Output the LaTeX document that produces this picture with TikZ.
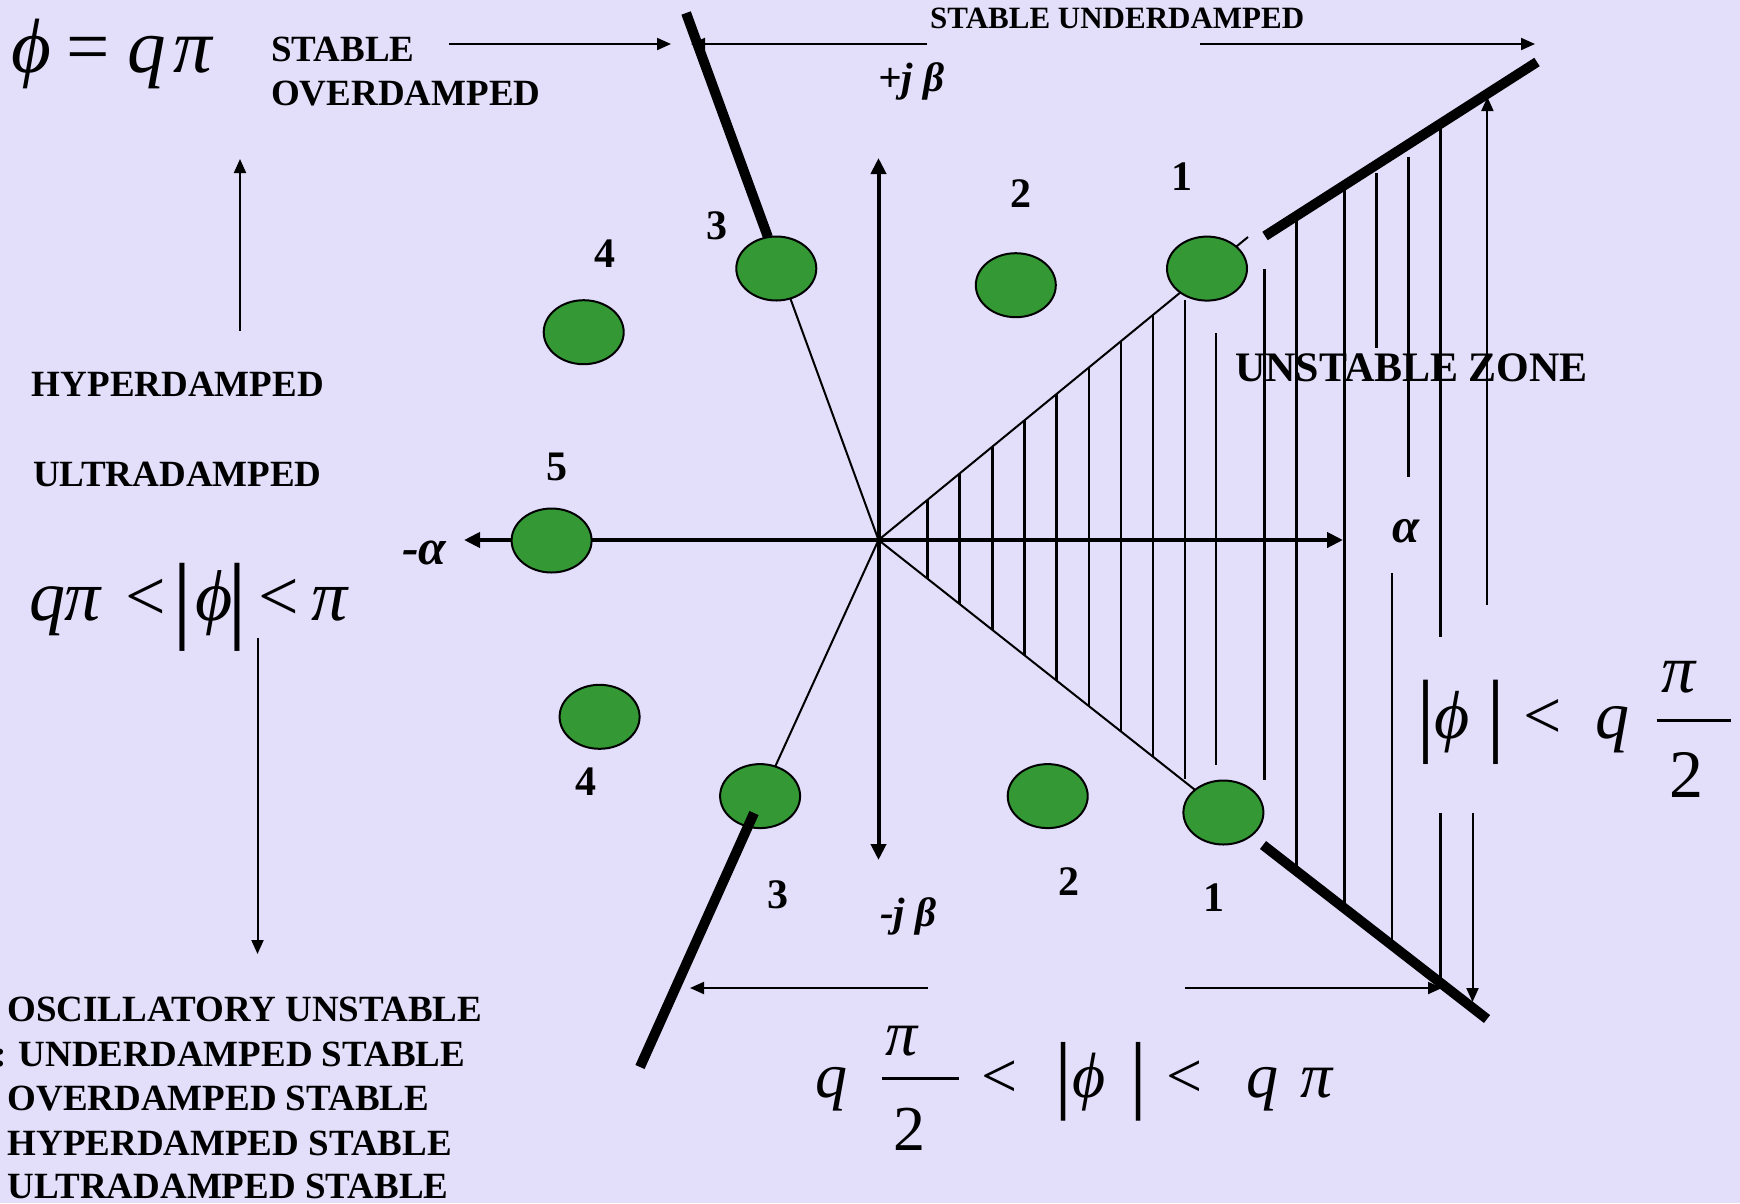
\documentclass[tikz,border=0pt]{standalone}
\usepackage{graphicx}
\usepackage{fontspec}
\setmainfont{Liberation Serif}
\usetikzlibrary{arrows.meta,shapes.geometric}
\definecolor{bgcol}{RGB}{227,223,251}
\definecolor{polegreen}{RGB}{52,153,52}
\newcommand\setfs[1]{\fontsize{#1}{#1}\selectfont}
% place a piece of a formula at an absolute x offset (pt) and a raise (pt)
\newcommand\gat[3]{\makebox[0pt][l]{\hspace*{#1pt}\raisebox{#2pt}{#3}}}
\newcommand\vbarg[1]{\scalebox{1}[#1]{\bfseries|}}
\begin{document}
\begin{tikzpicture}[x=1pt,y=-1pt,
  axisline/.style={line width=4pt,-{Triangle[length=16pt,width=15pt]}},
  thinray/.style={line width=2pt},
  thickray/.style={line width=10pt},
  hatchline/.style={line width=2.5pt},
  annarrow/.style={line width=2pt,-{Triangle[length=14pt,width=12pt]}},
  pole/.style={ellipse,draw,line width=2pt,fill=polegreen,minimum width=80pt,minimum height=64pt,inner sep=0pt},
  lbl/.style={anchor=base west,inner sep=0pt,font=\bfseries\setfs{37}},
  num/.style={inner sep=0pt,font=\bfseries\setfs{42}},
  axlbl/.style={anchor=base west,inner sep=0pt,font=\bfseries\itshape\setfs{41}},
  formula/.style={anchor=base west,inner sep=0pt}
]
\fill[bgcol] (0,0) rectangle (1740,1203);
\useasboundingbox (0,0) rectangle (1740,1203);

% origin and ray points
\coordinate (O) at (878.5,540);
\coordinate (ulA) at (767.9,237);
\coordinate (ulB) at (686.1,13);
\coordinate (llA) at (754,813);
\coordinate (llB) at (640,1067);
\coordinate (urA) at (1248,237);
\coordinate (urT1) at (1265,236);
\coordinate (urT2) at (1537,62);
\coordinate (lrA) at (1223,812);
\coordinate (lrT1) at (1263,845);
\coordinate (lrT2) at (1487,1019);

% hatching of the unstable zone
\foreach \x/\t/\b in {927.7/499.7/578.9, 959.7/473.5/604.1, 992.6/446.5/630.1,
  1024.7/420.2/655.4, 1056.7/394.0/680.7, 1088.8/367.6/706.1, 1120.8/341.4/731.3,
  1152.9/315.1/756.7, 1184.9/300/779, 1216.1/333.3/765, 1264.4/269.3/780,
  1296.4/217/868, 1344.3/186/905, 1376.3/173.3/348.3, 1408.4/156.7/476.7,
  1392.2/573.3/942, 1440.4/125/636.7, 1440.4/813.3/980}
  \draw[hatchline] (\x,\t) -- (\x,\b);

% thin rays
\draw[thinray] (O) -- (ulA);
\draw[thinray] (O) -- (llA);
\draw[thinray] (O) -- (urA);
\draw[thinray] (O) -- (lrA);

% axes
\coordinate (xl) at (464,540);
\coordinate (xr) at (1343,540);
\coordinate (yt) at (878.5,158);
\coordinate (yb) at (878.5,860);
\draw[axisline] (O) -- (xr);
\draw[axisline] (O) -- (xl);
\draw[axisline] (O) -- (yt);
\draw[axisline] (O) -- (yb);

% poles
\node[pole] (c1u) at (1207,268.6) {};
\node[pole] (c2u) at (1015.8,285.2) {};
\node[pole] (c3u) at (776.3,268.5) {};
\node[pole] (c4u) at (583.7,332.2) {};
\node[pole] (c5)  at (551.6,540.5) {};
\node[pole] (c4l) at (599.6,716.8) {};
\node[pole] (c3l) at (760.1,796.1) {};
\node[pole] (c2l) at (1047.7,796.1) {};
\node[pole] (c1l) at (1223.4,812.5) {};

% thick boundary rays
\draw[thickray] (ulA) -- (ulB);
\draw[thickray] (llA) -- (llB);
\draw[thickray] (urT1) -- (urT2);
\draw[thickray] (lrT1) -- (lrT2);

% pole numbers
\node[num] (n1u) at (1182,177) {1};
\node[num] (n2u) at (1020.5,193.5) {2};
\node[num] (n3u) at (717,225.5) {3};
\node[num] (n4u) at (605,253.5) {4};
\node[num] (n5)  at (557,466.5) {5};
\node[num] (n4l) at (586,782) {4};
\node[num] (n3l) at (777.5,894.5) {3};
\node[num] (n2l) at (1068.6,881.8) {2};
\node[num] (n1l) at (1214,897.5) {1};

% axis labels
\node[axlbl] (pjb) at (878,91) {+j β};
\node[axlbl] (mjb) at (880,926) {-j β};
\node[axlbl,font=\bfseries\itshape\setfs{50}] (mal) at (402,564) {-α};
\node[axlbl,font=\bfseries\itshape\setfs{49}] (pal) at (1392,542) {α};

% texts
\node[lbl] (t1) at (271,61) {STABLE};
\node[lbl] (t2) at (271,105) {OVERDAMPED};
\node[lbl,font=\bfseries\setfs{31}] (t3) at (930,28) {STABLE UNDERDAMPED};
\node[lbl] (t4) at (31.7,396.7) {HYPERDAMPED};
\node[lbl] (t5) at (33,486.7) {ULTRADAMPED};
\node[lbl,font=\bfseries\setfs{42}] (t6) at (1235,381.7) {UNSTABLE ZONE};
\node[lbl] (l1) at (7.3,1021) {OSCILLATORY UNSTABLE};
\node[lbl] (l2) at (-6,1066) {: UNDERDAMPED STABLE};
\node[lbl] (l3) at (7.3,1110) {OVERDAMPED STABLE};
\node[lbl] (l4) at (7.3,1155) {HYPERDAMPED STABLE};
\node[lbl] (l5) at (7.3,1198) {ULTRADAMPED STABLE};

% formulas (pieces placed at absolute x positions)
\node[formula,font=\setfs{77}] (fA) at (0,72)
  {\gat{11}{0}{\itshape ϕ}\gat{66}{0}{=}\gat{127}{0}{\itshape q}\gat{173}{0}{\itshape π}};
\node[formula,font=\setfs{72}] (fB) at (0,620)
  {\gat{28.5}{0}{\itshape q}\gat{64}{0}{\itshape π}\gat{125}{0}{<}%
   \gat{174.1}{-10.7}{\vbarg{1.346}}\gat{195}{0}{\itshape ϕ}%
   \gat{229.1}{-10.7}{\vbarg{1.346}}\gat{258}{0}{<}\gat{311}{0}{\itshape π}};
\node[formula,font=\setfs{68}] (fC) at (0,738)
  {\gat{1418}{-6.6}{\vbarg{1.364}}\gat{1434}{0}{\itshape ϕ}%
   \gat{1487.5}{-6.6}{\vbarg{1.364}}\gat{1523}{0}{<}\gat{1594.5}{0}{\itshape q}%
   \gat{1656}{16.5}{\rule{74pt}{3pt}}\gat{1661}{46}{\itshape π}\gat{1669}{-59}{2}};
\node[formula,font=\setfs{64}] (fD) at (0,1097)
  {\gat{815}{0}{\itshape q}\gat{881}{17.5}{\rule{77pt}{3pt}}%
   \gat{885}{42}{\itshape π}\gat{893}{-53}{2}\gat{981}{0}{<}%
   \gat{1056}{-5.6}{\vbarg{1.353}}\gat{1072}{0}{\itshape ϕ}%
   \gat{1131}{-5.6}{\vbarg{1.353}}\gat{1166}{0}{<}%
   \gat{1245.5}{0}{\itshape q}\gat{1300}{0}{\itshape π}};

% annotation arrows
\coordinate (a1s) at (449,44);   \coordinate (a1e) at (671,44);
\coordinate (a2s) at (927,44);   \coordinate (a2e) at (691,44);
\coordinate (a3s) at (1200,44);  \coordinate (a3e) at (1535,44);
\coordinate (a4s) at (240,331);  \coordinate (a4e) at (240,159);
\coordinate (a5s) at (257.5,638); \coordinate (a5e) at (257.5,954);
\coordinate (a6s) at (927.7,988); \coordinate (a6e) at (690,988);
\coordinate (a7s) at (1185,988); \coordinate (a7e) at (1442,988);
\coordinate (a8s) at (1487.4,605); \coordinate (a8e) at (1487.4,97);
\coordinate (a9s) at (1472.5,813); \coordinate (a9e) at (1472.5,1002);
\draw[annarrow] (a1s) -- (a1e);
\draw[annarrow] (a2s) -- (a2e);
\draw[annarrow] (a3s) -- (a3e);
\draw[annarrow] (a4s) -- (a4e);
\draw[annarrow] (a5s) -- (a5e);
\draw[annarrow] (a6s) -- (a6e);
\draw[annarrow] (a7s) -- (a7e);
\draw[annarrow] (a8s) -- (a8e);
\draw[annarrow] (a9s) -- (a9e);
\end{tikzpicture}
\end{document}
